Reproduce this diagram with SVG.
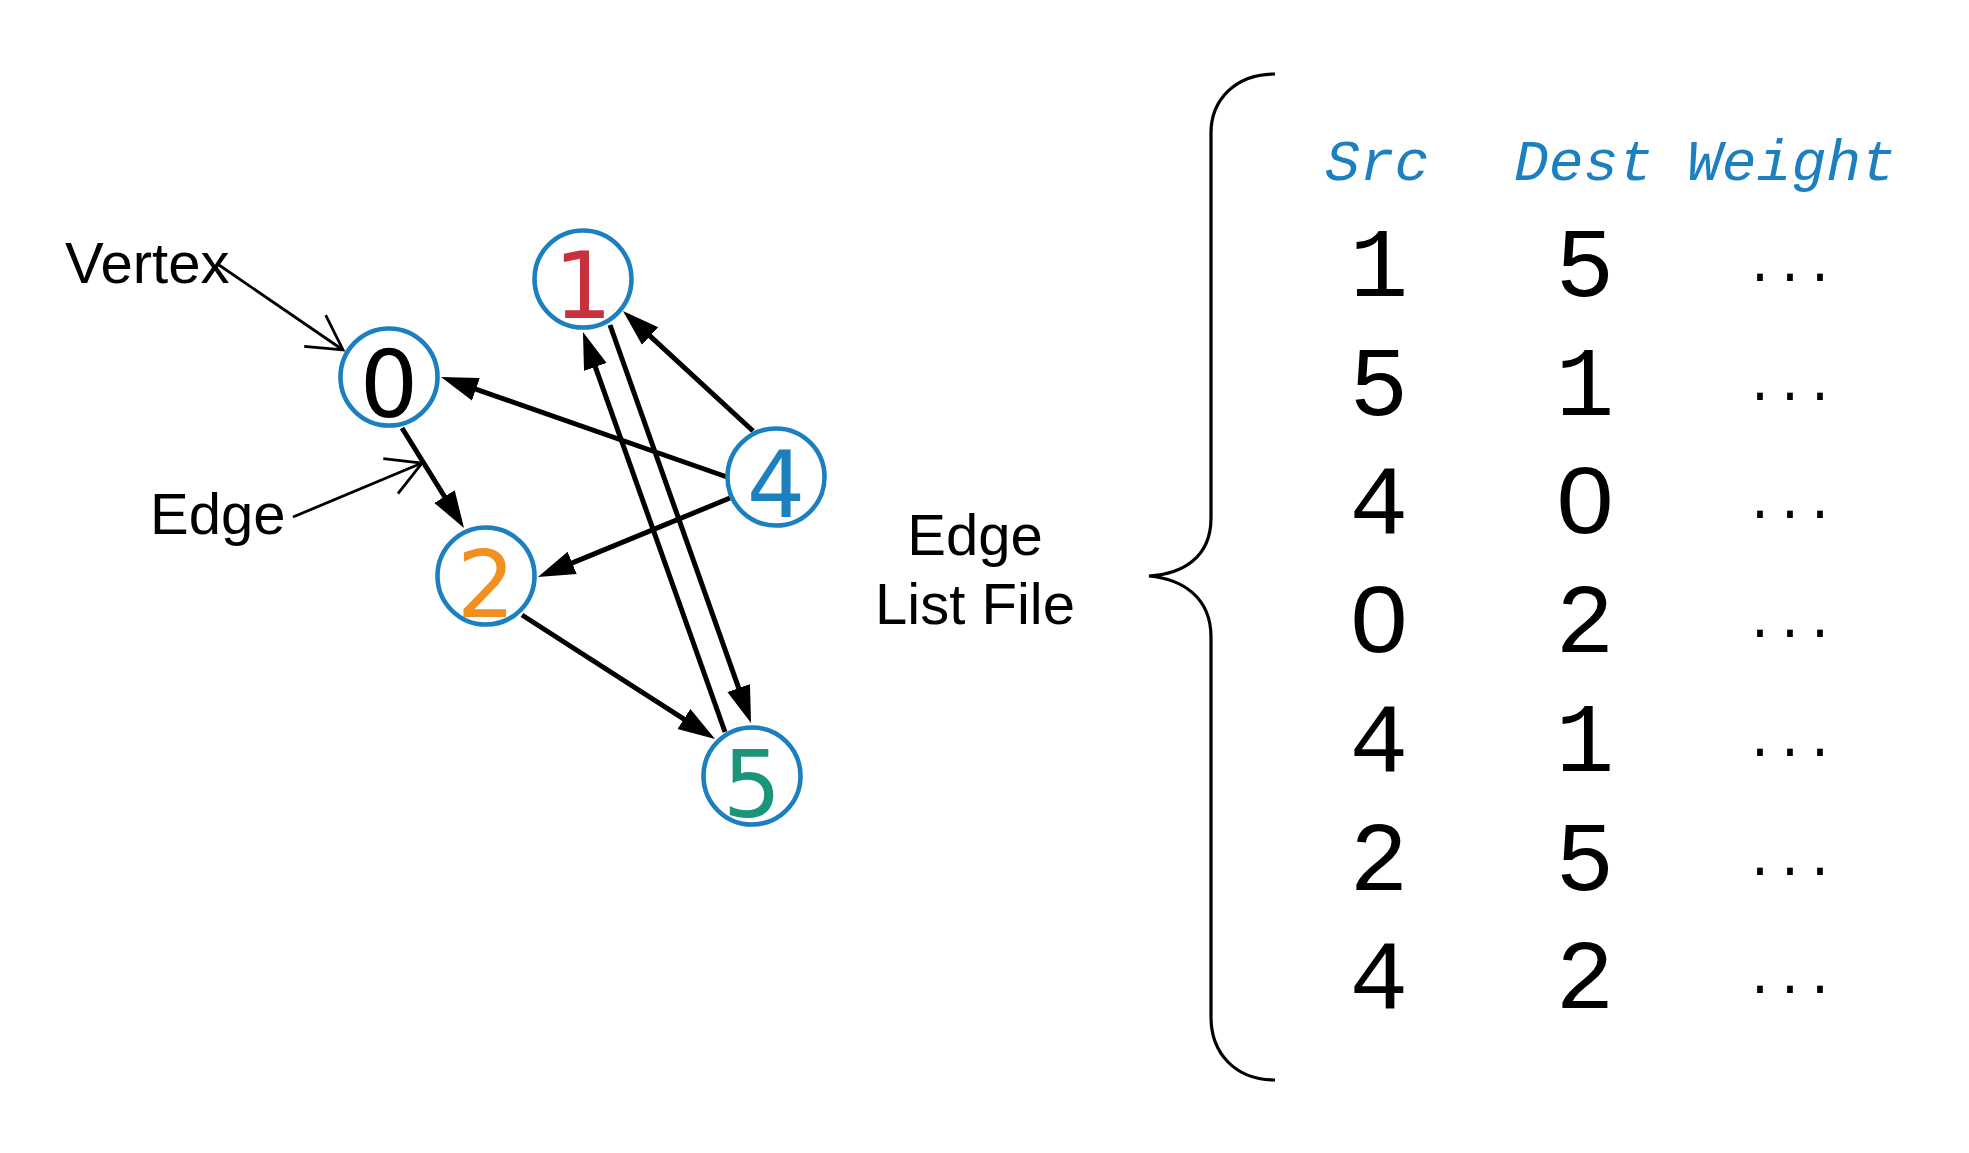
<svg xmlns="http://www.w3.org/2000/svg" width="1969" height="1153" viewBox="0 0 1969 1153">
<defs>
<style>
.node circle{fill:#fff;stroke:#1b7fc0;stroke-width:4.6}
.node text{font-family:"DejaVu Sans",sans-serif;font-size:92px;text-anchor:middle}
.edge{stroke:#000;stroke-width:5;fill:none;marker-end:url(#solid)}
.lbl{stroke:#000;stroke-width:2.8;fill:none;marker-end:url(#open)}
.sans{font-family:"Liberation Sans",Arial,sans-serif;font-size:58px;fill:#000}
.hdr{font-family:"Liberation Mono",monospace;font-style:italic;font-size:58px;fill:#1b7fc0}
.num{font-family:"Liberation Mono",monospace;font-size:98px;fill:#000;text-anchor:middle}
.zero{font-family:"Liberation Sans",Arial,sans-serif;font-size:95px;fill:#000;text-anchor:middle}
.dots{font-family:"Liberation Mono",monospace;font-size:50px;fill:#000;text-anchor:middle}
</style>
<marker id="solid" markerUnits="userSpaceOnUse" markerWidth="40" markerHeight="30" viewBox="0 -15 40 30" refX="7" refY="0" orient="auto">
<path d="M0,-12 L37,0 L0,12 Z" fill="#000"/>
</marker>
<marker id="open" markerUnits="userSpaceOnUse" markerWidth="44" markerHeight="48" viewBox="-40 -24 44 48" refX="0" refY="0" orient="auto">
<path d="M-34,-19 L0,0 L-34,19" fill="none" stroke="#000" stroke-width="2.8"/>
</marker>
</defs>
<rect width="1969" height="1153" fill="#fff"/>

<g id="connectors">
<line class="edge" x1="402" y1="428" x2="448.2" y2="502.5"/>
<line class="edge" x1="727" y1="477" x2="469.3" y2="386.9"/>
<line class="edge" x1="753" y1="431" x2="645" y2="331.3"/>
<line class="edge" x1="730" y1="498" x2="565.7" y2="565.6"/>
<line class="edge" x1="522" y1="615" x2="689.8" y2="722.8"/>
<line class="edge" x1="610" y1="325" x2="741" y2="694.7"/>
<line class="edge" x1="725" y1="732" x2="593" y2="360.3"/>
<line class="lbl" x1="219" y1="265" x2="343" y2="350"/>
<line class="lbl" x1="293" y1="517" x2="422" y2="463"/>
</g>

<g id="node0" class="node"><circle cx="389" cy="377" r="48.5"/><text x="389" y="417" fill="#000">0</text></g>
<g id="node1" class="node"><circle cx="583" cy="279" r="48.5"/><text x="583" y="318" fill="#c8303c">1</text></g>
<g id="node2" class="node"><circle cx="486" cy="576" r="48.5"/><text x="486" y="617" fill="#f09020">2</text></g>
<g id="node4" class="node"><circle cx="776" cy="477" r="48.5"/><text x="776" y="517" fill="#1b7fc0">4</text></g>
<g id="node5" class="node"><circle cx="752" cy="776" r="48.5"/><text x="752" y="817" fill="#1a957a">5</text></g>

<g id="labels">
<text class="sans" x="65" y="283">Vertex</text>
<text class="sans" x="150" y="534">Edge</text>
<text class="sans" x="975" y="555" text-anchor="middle">Edge</text>
<text class="sans" x="975" y="624" text-anchor="middle">List File</text>
</g>

<g id="brace">
<path d="M1275,74 C1235,74 1211,100 1211,133 L1211,518 C1211,558 1182,574 1149,576 C1182,579 1211,597 1211,637 L1211,1017 C1211,1053 1235,1080 1275,1080" fill="none" stroke="#000" stroke-width="3.2"/>
</g>

<g id="table">
<text class="hdr" x="1325" y="180">Src</text>
<text class="hdr" x="1514" y="180">Dest</text>
<text class="hdr" x="1687" y="180">Weight</text>
<text class="num" x="1379" y="296">1</text><text class="num" x="1585" y="296">5</text><text class="dots" x="1790" y="281">...</text>
<text class="num" x="1379" y="415">5</text><text class="num" x="1585" y="415">1</text><text class="dots" x="1790" y="400">...</text>
<text class="num" x="1379" y="533">4</text><text class="zero" x="1585" y="533" transform="translate(1585 0) scale(1.08 1) translate(-1585 0)">0</text><text class="dots" x="1790" y="518">...</text>
<text class="zero" x="1379" y="652" transform="translate(1379 0) scale(1.08 1) translate(-1379 0)">0</text><text class="num" x="1585" y="652">2</text><text class="dots" x="1790" y="637">...</text>
<text class="num" x="1379" y="771">4</text><text class="num" x="1585" y="771">1</text><text class="dots" x="1790" y="756">...</text>
<text class="num" x="1379" y="890">2</text><text class="num" x="1585" y="890">5</text><text class="dots" x="1790" y="875">...</text>
<text class="num" x="1379" y="1008">4</text><text class="num" x="1585" y="1008">2</text><text class="dots" x="1790" y="993">...</text>
</g>
</svg>
